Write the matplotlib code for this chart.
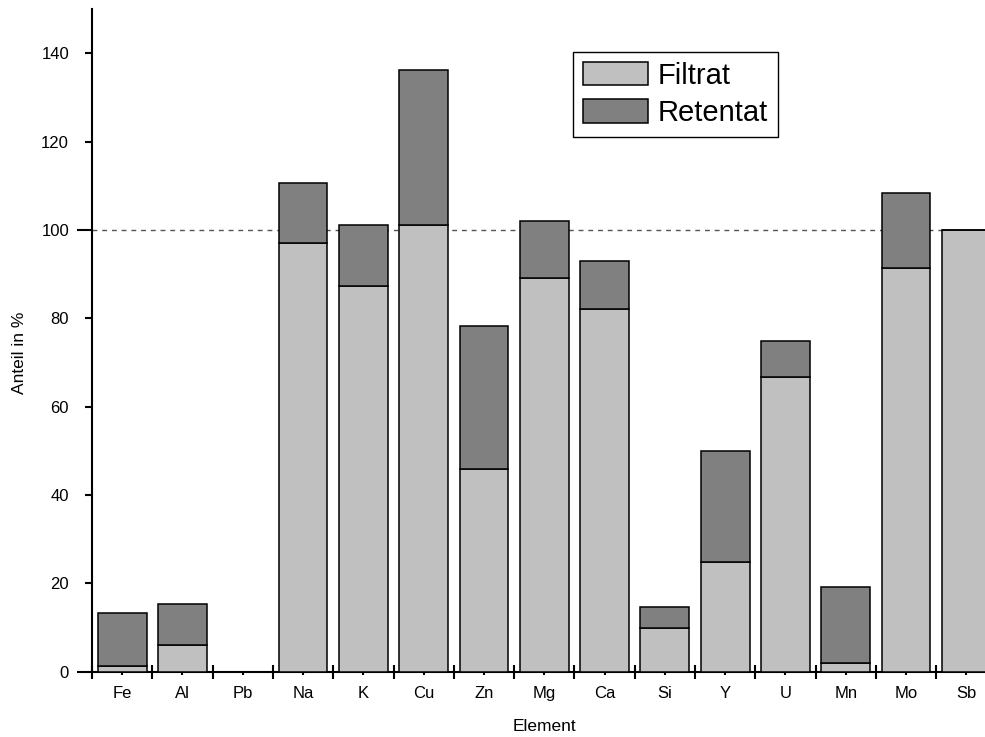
import matplotlib
matplotlib.use("Agg")
import matplotlib.pyplot as plt
import numpy as np
from matplotlib.ticker import FixedLocator, NullFormatter, FixedFormatter

plt.rcParams['font.family'] = ['Liberation Sans', 'DejaVu Sans']

# Element shares (in %) found in filtrate and retentate
elements = ["Fe", "Al", "Pb", "Na", "K", "Cu", "Zn", "Mg", "Ca", "Si", "Y", "U", "Mn", "Mo", "Sb"]
filtrat = [1.3, 6.0, 0.0, 97.0, 87.4, 101.2, 45.9, 89.0, 82.2, 10.0, 24.9, 66.6, 1.9, 91.3, 100.0]
retentat = [11.9, 9.4, 0.0, 13.6, 13.6, 35.0, 32.3, 13.1, 10.8, 4.7, 25.1, 8.2, 17.3, 17.0, 0.0]
y_ticks = [0, 20, 40, 60, 80, 100, 120, 140]
reference = 100

W, H = 985, 737
fig = plt.figure(figsize=(W / 100, H / 100), dpi=100)
ax = fig.add_axes([92 / W, (H - 671.7) / H, 904.5 / W, 662.7 / H])

x = np.arange(len(elements))
width = 0.81
edge = dict(edgecolor="black", linewidth=1.1)
b1 = ax.bar(x, filtrat, width, color="#c0c0c0", label="Filtrat", zorder=3, **edge)
b2 = ax.bar(x, retentat, width, bottom=filtrat, color="#808080", label="Retentat", zorder=3, **edge)

ax.axhline(reference, color="#555555", lw=1.0, ls=(0, (3.5, 3.5)), zorder=1)

ax.set_xlim(-0.5, len(elements) - 0.5)
ax.set_ylim(0, 150)

for s in ("top", "right"):
    ax.spines[s].set_visible(False)
for s in ("left", "bottom"):
    ax.spines[s].set_linewidth(1.5)

# x axis: boundaries as crossing major ticks, element names at the centres
ax.xaxis.set_major_locator(FixedLocator(np.arange(-0.5, len(elements), 1.0)))
ax.xaxis.set_major_formatter(NullFormatter())
ax.xaxis.set_minor_locator(FixedLocator(x))
ax.xaxis.set_minor_formatter(FixedFormatter(elements))
ax.tick_params(axis="x", which="major", direction="inout", length=9.5, width=1.5)
ax.tick_params(axis="x", which="minor", direction="out", length=2, width=1.5,
               labelsize=12, pad=8)

ax.yaxis.set_major_locator(FixedLocator(y_ticks))
ax.set_yticklabels([str(v) for v in y_ticks])
ax.tick_params(axis="y", which="major", direction="out", length=5, width=1.5,
               labelsize=12, pad=11.5)
for t, v in zip(ax.yaxis.get_major_ticks(), y_ticks):
    if v in (0, reference):
        t.tick1line.set_markersize(10.5)

ax.set_xlabel("Element", fontsize=12.5)
ax.set_ylabel("Anteil in %", fontsize=12.5)
ax.xaxis.set_label_coords(0.5, (671.7 - 719) / 662.7)
ax.yaxis.set_label_coords((27 - 92) / 904.5, (671.7 - 352.5) / 662.7)

leg = fig.legend(handles=[b1, b2], loc="upper left",
                 bbox_to_anchor=(573 / W, 1 - 52 / H), bbox_transform=fig.transFigure,
                 borderaxespad=0, fontsize=21, fancybox=False, framealpha=1,
                 edgecolor="black", handlelength=2.25, handleheight=0.88,
                 borderpad=0.33, labelspacing=0.32, handletextpad=0.33)
leg.get_frame().set_linewidth(1.0)

fig.savefig("out.png", dpi=100)
